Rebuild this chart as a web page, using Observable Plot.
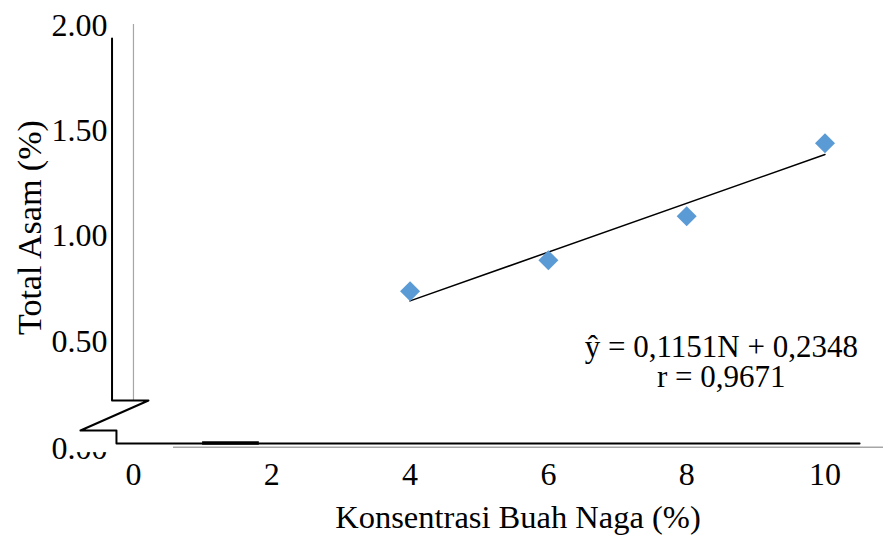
<!DOCTYPE html>
<html>
<head>
<meta charset="utf-8">
<script src="https://cdn.jsdelivr.net/npm/d3@7"></script>
<script src="https://cdn.jsdelivr.net/npm/@observablehq/plot@0.6"></script>
<style>
  html, body { margin: 0; padding: 0; background: #ffffff; }
  #chart { width: 883px; height: 548px; }
</style>
</head>
<body>
<div id="chart"></div>
<script>
// ---- data ----
const konsentrasi = [4, 6, 8, 10];
const totalAsam = [0.738, 0.885, 1.094, 1.441];
const xTicks = [0, 2, 4, 6, 8, 10];
const yTicks = [0.5, 1.0, 1.5, 2.0];
const yZeroTick = [0];
const xTitle = "Konsentrasi Buah Naga (%)";
const yTitle = "Total Asam (%)";
const equationLine1 = "ŷ = 0,1151N + 0,2348";
const equationLine2 = "r = 0,9671";

// axis-break decoration (data units)
const breakPathX = [-0.31, -0.31, 0.217, -0.766, -0.246, -0.246, 10.5];
const breakPathY = [1.938, 0.2185, 0.2185, 0.076, 0.076, 0.0143, 0.0143];

const points = konsentrasi.map((x, i) => ({x, y: totalAsam[i]}));
const breakPath = breakPathX.map((x, i) => ({x, y: breakPathY[i]}));

const FONT = "Liberation Serif, Times New Roman, serif";

const chart = Plot.plot({
  width: 883,
  height: 548,
  marginLeft: 80,
  marginRight: 0,
  marginTop: 25,
  marginBottom: 102,
  style: {fontFamily: FONT, background: "white", color: "black", overflow: "visible"},
  x: {domain: [-0.766, 10.846], axis: null},
  y: {domain: [0, 2], axis: null},
  marks: [
    // gray original axes
    Plot.ruleX([0], {y1: 2.005, y2: 0.2185, stroke: "#a6a6a6", strokeWidth: 1.2}),
    Plot.ruleY([-0.004], {x1: 0.578, x2: 10.85, stroke: "#a6a6a6", strokeWidth: 1.5}),
    // 0.00 label (partly hidden under the break)
    Plot.text(yZeroTick, {y: d => d, text: d => d.toFixed(2), frameAnchor: "left", textAnchor: "end",
      dx: 27, dy: 2, fontSize: 32, fill: "black"}),
    // white mask of the break
    Plot.rect([0], {x1: -0.9, x2: 0.578, y1: -0.029, y2: 0.2185, fill: "white"}),
    // break path (black)
    Plot.line(breakPath, {x: "x", y: "y", stroke: "black", strokeWidth: 2, curve: "linear"}),
    Plot.ruleY([0.017], {x1: 1.0, x2: 1.82, stroke: "black", strokeWidth: 3.5}),
    // y tick labels
    Plot.text(yTicks, {y: d => d, text: d => d.toFixed(2), frameAnchor: "left", textAnchor: "end",
      dx: 27, fontSize: 32, fill: "black"}),
    // x tick labels
    Plot.text(xTicks, {x: d => d, text: d => String(d), frameAnchor: "bottom", dy: 38,
      fontSize: 32, fill: "black"}),
    // axis titles
    Plot.text([xTitle], {frameAnchor: "bottom", dx: 36, dy: 81, fontSize: 32.5, fill: "black"}),
    Plot.text([yTitle], {x: () => -1.49, y: () => 1.04, text: d => d, rotate: -90, fontSize: 34, fill: "black"}),
    // regression line
    Plot.linearRegressionY(points, {x: "x", y: "y", ci: 0, stroke: "black", strokeWidth: 1.5}),
    // data points
    Plot.dot(points, {x: "x", y: "y", symbol: "diamond2", r: 9, fill: "#5b9bd5", stroke: "none"}),
    // equation
    Plot.text([equationLine1], {x: () => 8.5, y: () => 0.47, text: d => d, fontSize: 31, fill: "black"}),
    Plot.text([equationLine2], {x: () => 8.5, y: () => 0.33, text: d => d, fontSize: 31, fill: "black"})
  ]
});
document.getElementById("chart").appendChild(chart);
</script>
</body>
</html>
